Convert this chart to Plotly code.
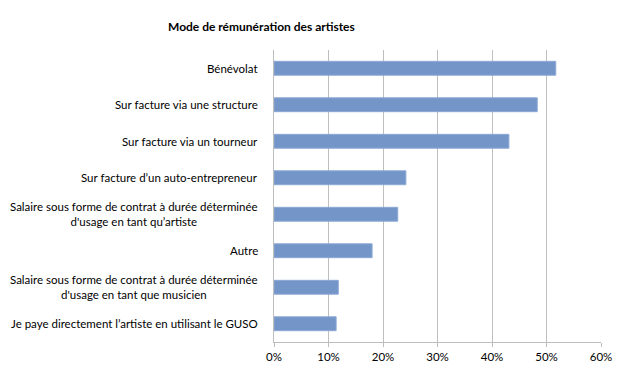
import plotly.graph_objects as go

categories = [
    "Bénévolat",
    "Sur facture via une structure",
    "Sur facture via un tourneur",
    "Sur facture d’un auto-entrepreneur",
    "Salaire sous forme de contrat à durée déterminée<br>d'usage en tant qu’artiste",
    "Autre",
    "Salaire sous forme de contrat à durée déterminée<br>d'usage en tant que musicien",
    "Je paye directement l’artiste en utilisant le GUSO",
]
values = [0.517, 0.483, 0.431, 0.242, 0.227, 0.180, 0.118, 0.114]
tick_vals = [0, 0.1, 0.2, 0.3, 0.4, 0.5, 0.6]
tick_text = ["0%", "10%", "20%", "30%", "40%", "50%", "60%"]

FONT = "Lato, 'Open Sans', sans-serif"

# page body has an 8px margin; figure is sized so the page matches 629x375
W, H = 621, 367
L, R, T, B = 266, 28, 42, 31
PW = W - L - R
PH = H - T - B

fig = go.Figure(go.Bar(
    x=values, y=categories, orientation="h",
    marker=dict(color="#7395C8", line=dict(color="#8DA9D6", width=1)),
    width=0.38,
))

annotations = [
    dict(x=0, y=c, xref="paper", yref="y", text=c, showarrow=False,
         xanchor="right", yanchor="middle", align="center", xshift=-14,
         font=dict(family=FONT, size=11.5, color="#000000"))
    for c in categories
]
annotations.append(dict(
    x=-13 / PW, y=1 + 24 / PH, xref="paper", yref="paper",
    text="<b>Mode de rémunération des artistes</b>", showarrow=False,
    xanchor="center", yanchor="middle",
    font=dict(family=FONT, size=12, color="#000000")))

fig.update_layout(
    width=W, height=H,
    margin=dict(l=L, r=R, t=T, b=B),
    paper_bgcolor="white", plot_bgcolor="white",
    showlegend=False,
    annotations=annotations,
    xaxis=dict(
        range=[0, 0.6], tickvals=tick_vals, ticktext=tick_text,
        showgrid=True, gridcolor="#BEBEBE", gridwidth=1,
        showline=True, linecolor="#BDBDBD", linewidth=1,
        ticks="outside", ticklen=4, tickcolor="#BDBDBD",
        zeroline=False, tickfont=dict(family=FONT, size=11.5, color="#000000"),
    ),
    yaxis=dict(
        categoryorder="array", categoryarray=categories, autorange="reversed",
        showticklabels=False, showgrid=False,
        showline=True, linecolor="#BDBDBD", linewidth=1, zeroline=False,
    ),
)

fig.write_html("out.html")
